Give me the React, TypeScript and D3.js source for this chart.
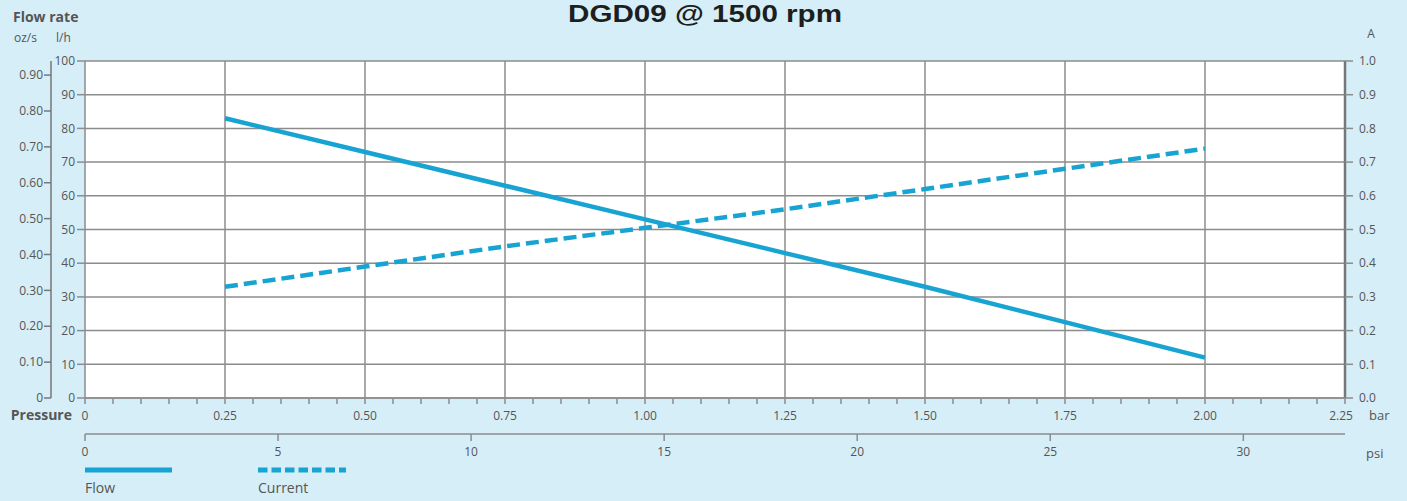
import React from 'react';
import * as d3 from 'd3';

const width = 1407;
const height = 501;
const margin = { top: 61, right: 62, bottom: 103, left: 85 };

// data
const pressureBar = [0.25, 0.5, 0.75, 1.0, 1.25, 1.5, 1.75, 2.0];
const flowLh = [83, 73, 63, 53, 43, 33, 22.5, 12];
const currentA = [0.33, 0.39, 0.45, 0.505, 0.56, 0.62, 0.68, 0.74];

const barTicks = [0, 0.25, 0.5, 0.75, 1.0, 1.25, 1.5, 1.75, 2.0, 2.25];
const psiTicks = [0, 5, 10, 15, 20, 25, 30];
const lhTicks = [0, 10, 20, 30, 40, 50, 60, 70, 80, 90, 100];
const ozTicks = [0, 0.1, 0.2, 0.3, 0.4, 0.5, 0.6, 0.7, 0.8, 0.9];
const ampTicks = [0, 0.1, 0.2, 0.3, 0.4, 0.5, 0.6, 0.7, 0.8, 0.9, 1.0];

const LH_TO_OZS = 33.814 / 3600;
const PSI_PER_BAR = 14.5038;

const bg = '#d6eef7';
const blue = '#17a4d3';
const grid = '#8c8c8c';
const txt = '#555';
const font = 'Open Sans, sans-serif';

export default function App() {
  const innerW = width - margin.left - margin.right;
  const innerH = height - margin.top - margin.bottom;
  const x0 = margin.left;
  const y0 = margin.top;
  const bottom = y0 + innerH;

  const x = d3.scaleLinear().domain([0, 2.25]).range([x0, x0 + innerW]);
  const yLh = d3.scaleLinear().domain([0, 100]).range([bottom, y0]);
  const yOz = d3.scaleLinear().domain([0, 100 * LH_TO_OZS]).range([bottom, y0]);
  const yA = d3.scaleLinear().domain([0, 1]).range([bottom, y0]);
  const xPsi = d3.scaleLinear().domain([0, 2.25 * PSI_PER_BAR]).range([x0, x0 + innerW]);

  const minor = d3.range(0, 2.2501, 0.05).filter((v) => Math.abs(v / 0.25 - Math.round(v / 0.25)) > 1e-6);

  const flowLine = d3
    .line<number>()
    .x((d, i) => x(pressureBar[i]))
    .y((d) => yLh(d));
  const curLine = d3
    .line<number>()
    .x((d, i) => x(pressureBar[i]))
    .y((d) => yA(d));

  const ozAxisX = 51;
  const psiY = 434;

  return (
    <div style={{ position: 'absolute', left: 0, top: 0 }}>
      <svg width={width} height={height} style={{ display: 'block', background: bg }} fontFamily={font}>
        <rect x={x0} y={y0} width={innerW} height={innerH} fill="#fff" />

        {/* horizontal grid */}
        {lhTicks.map((t) => (
          <line key={'h' + t} x1={x0} x2={x0 + innerW} y1={yLh(t)} y2={yLh(t)} stroke={grid} strokeWidth={1.5} />
        ))}
        {/* vertical grid */}
        {barTicks.map((t) => (
          <line key={'v' + t} x1={x(t)} x2={x(t)} y1={y0} y2={bottom} stroke={grid} strokeWidth={1.5} />
        ))}
        <line x1={x0 + innerW} x2={x0 + innerW} y1={y0} y2={bottom} stroke="#777" strokeWidth={2.5} />

        {/* l/h axis */}
        {lhTicks.map((t) => (
          <g key={'lh' + t}>
            <line x1={77} x2={x0} y1={yLh(t)} y2={yLh(t)} stroke={grid} strokeWidth={1.5} />
            <text x={75} y={yLh(t)} dy="0.35em" textAnchor="end" fontSize={12} fill={txt}>
              {t}
            </text>
          </g>
        ))}

        {/* oz/s axis */}
        <line x1={ozAxisX} x2={ozAxisX} y1={y0} y2={bottom} stroke="#777" strokeWidth={1.5} />
        {ozTicks.map((t) => (
          <g key={'oz' + t}>
            <line x1={ozAxisX - 7} x2={ozAxisX} y1={yOz(t)} y2={yOz(t)} stroke="#777" strokeWidth={1.5} />
            <text x={ozAxisX - 8} y={yOz(t)} dy="0.35em" textAnchor="end" fontSize={12} fill={txt}>
              {t === 0 ? '0' : t.toFixed(2)}
            </text>
          </g>
        ))}

        {/* A axis */}
        {ampTicks.map((t) => (
          <g key={'a' + t}>
            <line x1={x0 + innerW} x2={x0 + innerW + 8} y1={yA(t)} y2={yA(t)} stroke={grid} strokeWidth={1.5} />
            <text x={x0 + innerW + 14} y={yA(t)} dy="0.35em" fontSize={12} fill={txt}>
              {t.toFixed(1)}
            </text>
          </g>
        ))}
        <text x={1371} y={38} textAnchor="middle" fontSize={12} fill={txt}>A</text>

        {/* bar axis */}
        <line x1={x0} x2={x0 + innerW} y1={bottom} y2={bottom} stroke={grid} strokeWidth={1.5} />
        {minor.map((t) => (
          <line key={'m' + t} x1={x(t)} x2={x(t)} y1={bottom} y2={bottom + 6} stroke={grid} strokeWidth={1.5} />
        ))}
        {barTicks.map((t) => (
          <g key={'b' + t}>
            <line x1={x(t)} x2={x(t)} y1={bottom} y2={bottom + 6} stroke={grid} strokeWidth={1.5} />
            <text x={t === 2.25 ? x(t) - 4 : x(t)} y={420} textAnchor="middle" fontSize={12} fill={txt}>
              {t === 0 ? '0' : t.toFixed(2)}
            </text>
          </g>
        ))}
        <text x={1369} y={420} fontSize={13} fill={txt}>bar</text>
        <text x={72} y={420} textAnchor="end" fontSize={14} fontWeight="bold" fill={txt}>Pressure</text>

        {/* psi axis */}
        <line x1={x0} x2={x0 + innerW} y1={psiY} y2={psiY} stroke={grid} strokeWidth={1.5} />
        {psiTicks.map((t) => (
          <g key={'p' + t}>
            <line x1={xPsi(t)} x2={xPsi(t)} y1={psiY} y2={psiY + 7} stroke={grid} strokeWidth={1.5} />
            <text x={xPsi(t)} y={456} textAnchor="middle" fontSize={12} fill={txt}>
              {t}
            </text>
          </g>
        ))}
        <text x={1366} y={458} fontSize={13} fill={txt}>psi</text>

        {/* series */}
        <path d={flowLine(flowLh) || ''} fill="none" stroke={blue} strokeWidth={4.5} />
        <path d={curLine(currentA) || ''} fill="none" stroke={blue} strokeWidth={4.5} strokeDasharray="13 6" />

        {/* titles */}
        <text
          x={568}
          y={22}
          fontFamily="Liberation Sans, Arial, sans-serif"
          fontWeight="bold"
          fontSize={24}
          textLength={274}
          lengthAdjust="spacingAndGlyphs"
          fill="#1e1e1e"
        >
          DGD09 @ 1500 rpm
        </text>
        <text x={13} y={22} fontSize={14} fontWeight="bold" fill={txt}>Flow rate</text>
        <text x={14} y={42} fontSize={12} fill={txt}>oz/s</text>
        <text x={56} y={42} fontSize={12} fill={txt}>l/h</text>

        {/* legend */}
        <line x1={85} x2={172} y1={470} y2={470} stroke={blue} strokeWidth={5} />
        <text x={85} y={493} fontSize={14} fill={txt}>Flow</text>
        <line x1={258} x2={346} y1={470} y2={470} stroke={blue} strokeWidth={5} strokeDasharray="9.5 4" />
        <text x={258} y={493} fontSize={14} fill={txt}>Current</text>
      </svg>
    </div>
  );
}
